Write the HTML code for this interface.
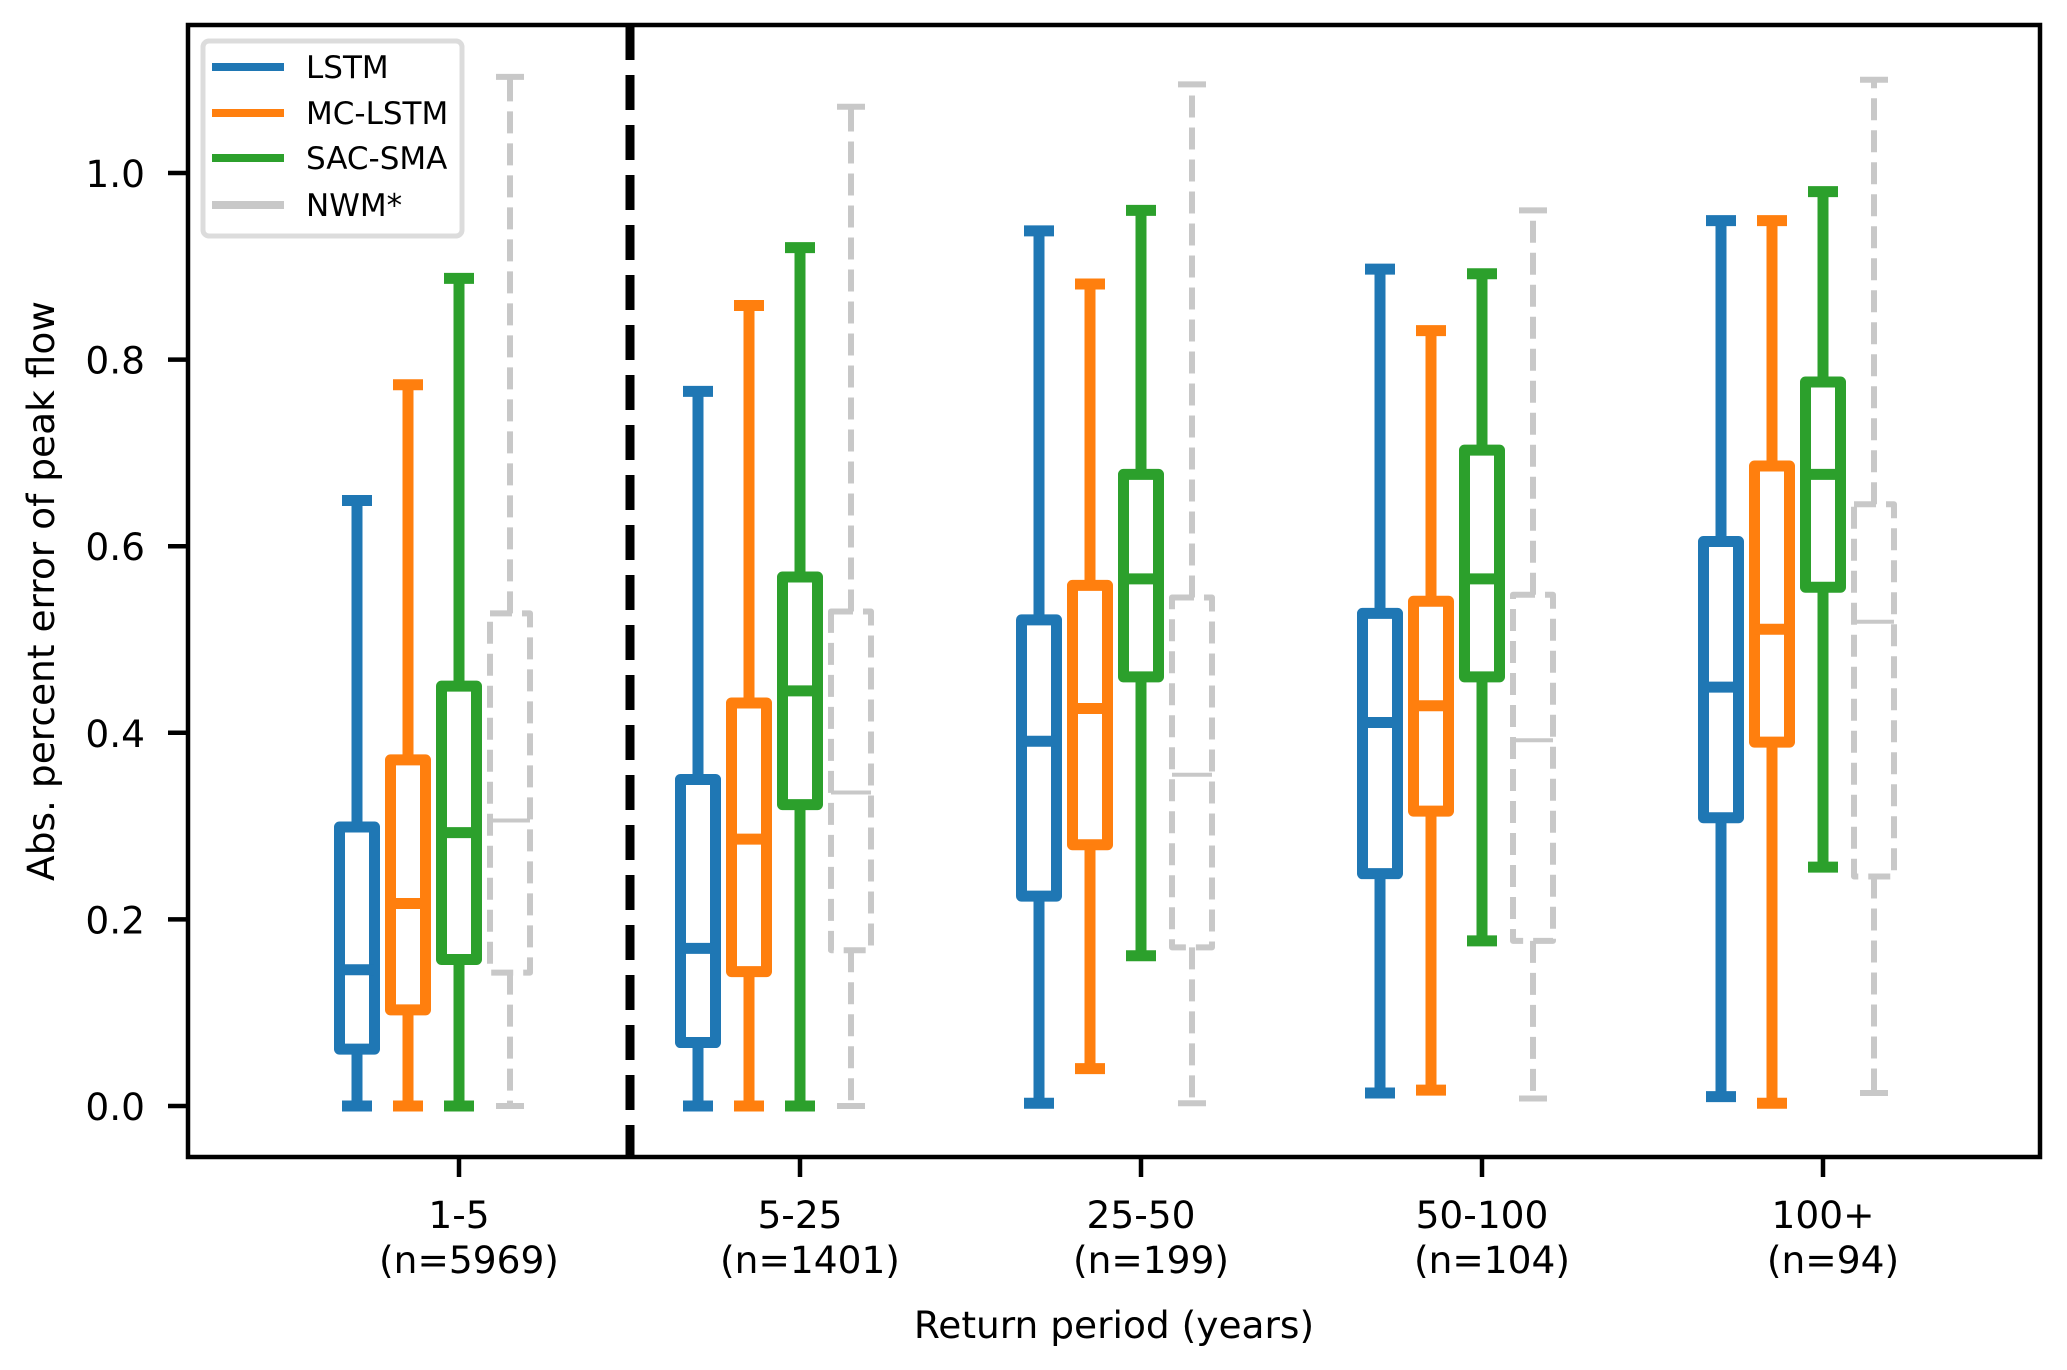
<!DOCTYPE html>
<html><head><meta charset="utf-8"><style>
body{margin:0;background:#fff}
svg text{font-family:"DejaVu Sans","Liberation Sans",sans-serif;fill:#000}
</style></head><body>
<svg id="chart" width="2067" height="1365" viewBox="0 0 2067 1365" xmlns="http://www.w3.org/2000/svg">
<rect x="0" y="0" width="2067" height="1365" fill="#fff"/>
<g id="marks"></g>
<line x1="630" y1="25" x2="630" y2="1157" stroke="#000" stroke-width="9" stroke-dasharray="35,15"/>
<rect x="188" y="25" width="1852" height="1132" fill="none" stroke="#000" stroke-width="4.5"/>
<g id="yaxis"></g>
<g id="xaxis"></g>
<text x="54" y="591" font-size="37.5" text-anchor="middle" transform="rotate(-90 54 591)">Abs. percent error of peak flow</text>
<text x="1114" y="1338" font-size="37.5" text-anchor="middle">Return period (years)</text>
<g>
<rect x="203" y="41" width="259" height="195" rx="6" fill="#fff" stroke="#dcdcdc" stroke-width="5"/>
<g><line x1="212" y1="67" x2="284" y2="67" stroke="#1f77b4" stroke-width="8"/><text x="306" y="78" font-size="31">LSTM</text></g>
<g><line x1="212" y1="113" x2="284" y2="113" stroke="#ff7f0e" stroke-width="8"/><text x="306" y="124" font-size="31">MC-LSTM</text></g>
<g><line x1="212" y1="158" x2="284" y2="158" stroke="#2ca02c" stroke-width="8"/><text x="306" y="169" font-size="31">SAC-SMA</text></g>
<g><line x1="212" y1="205" x2="284" y2="205" stroke="#c8c8c8" stroke-width="8"/><text x="306" y="216" font-size="31">NWM*</text></g>
</g>
</svg>
<script>
const categories = ["1-5","5-25","25-50","50-100","100+"];
const counts = ["(n=5969)","(n=1401)","(n=199)","(n=104)","(n=94)"];
const seriesNames = ["LSTM","MC-LSTM","SAC-SMA","NWM*"];
const yTicks = [0.0,0.2,0.4,0.6,0.8,1.0];
// each: [whislo, q1, med, q3, whishi] per category
const lstm = [[0,0.061,0.146,0.299,0.649],[0,0.068,0.169,0.350,0.766],[0.003,0.225,0.391,0.521,0.938],[0.014,0.249,0.411,0.528,0.897],[0.010,0.309,0.449,0.605,0.949]];
const mclstm = [[0,0.103,0.217,0.371,0.773],[0,0.144,0.286,0.432,0.858],[0.040,0.280,0.426,0.558,0.881],[0.017,0.316,0.429,0.541,0.831],[0.003,0.390,0.511,0.686,0.949]];
const sacsma = [[0,0.157,0.293,0.450,0.887],[0,0.323,0.445,0.567,0.920],[0.161,0.460,0.565,0.677,0.960],[0.177,0.460,0.565,0.703,0.892],[0.256,0.556,0.677,0.776,0.980]];
const nwm = [[0,0.143,0.306,0.528,1.103],[0,0.167,0.336,0.530,1.071],[0.003,0.170,0.355,0.545,1.095],[0.008,0.177,0.392,0.548,0.960],[0.014,0.246,0.519,0.645,1.100]];

const NS="http://www.w3.org/2000/svg";
const y = v => 1106 - v*933;
const xc = i => 459 + i*341;
const series=[lstm,mclstm,sacsma,nwm];
const colors=["#1f77b4","#ff7f0e","#2ca02c","#c8c8c8"];
const offsets=[-2,-1,0,1];
function mk(tag,attrs,parent){const e=document.createElementNS(NS,tag);for(const k in attrs)e.setAttribute(k,attrs[k]);parent.appendChild(e);return e;}
const marks=document.getElementById('marks');
series.forEach((s,si)=>{
  const dashed = si===3;
  const sw = dashed?6:11;
  const base={stroke:colors[si],'stroke-width':sw,fill:'none'};
  if(dashed) base['stroke-dasharray']='22,10';
  s.forEach((d,ci)=>{
    const cx = xc(ci)+offsets[si]*51;
    const g=mk('g',{},marks);
    
    
    const bw=dashed?40:35, cw=dashed?14:15;
    mk('rect',Object.assign({x:cx-bw/2,y:y(d[3]),width:bw,height:y(d[1])-y(d[3]),'stroke-linejoin':'round'},base),g);
    mk('line',Object.assign({x1:cx-bw/2,x2:cx+bw/2,y1:y(d[2]),y2:y(d[2])},base,{'stroke-dasharray':'none','stroke-width':dashed?4:11}),g);
    mk('line',Object.assign({x1:cx,x2:cx,y1:y(d[3]),y2:y(d[4])},base),g);
    mk('line',Object.assign({x1:cx,x2:cx,y1:y(d[1]),y2:y(d[0])},base),g);
    mk('line',Object.assign({x1:cx-cw,x2:cx+cw,y1:y(d[4]),y2:y(d[4])},base,{'stroke-dasharray':'none'}),g);
    mk('line',Object.assign({x1:cx-cw,x2:cx+cw,y1:y(d[0]),y2:y(d[0])},base,{'stroke-dasharray':'none'}),g);
  });
});
const ya=document.getElementById('yaxis');
yTicks.forEach(t=>{
  const l=mk('line',{x1:168,x2:188,y1:y(t),y2:y(t),stroke:'#000','stroke-width':4.5},ya);
  
  
  const tx=mk('text',{x:145,y:y(t)+14,'font-size':37.5,'text-anchor':'end'},ya);
  tx.textContent=t.toFixed(1);
  
  
});
const xa=document.getElementById('xaxis');
categories.forEach((c,i)=>{
  const l=mk('line',{x1:xc(i),x2:xc(i),y1:1157,y2:1177,stroke:'#000','stroke-width':4.5},xa);
  
  
  const t1=mk('text',{x:xc(i),y:1228,'font-size':37.5,'text-anchor':'middle'},xa);
  t1.textContent=c;
  
  
  const t2=mk('text',{x:xc(i)+10,y:1273,'font-size':37.5,'text-anchor':'middle'},xa);
  t2.textContent=counts[i];
  
  
});
</script>
</body></html>
